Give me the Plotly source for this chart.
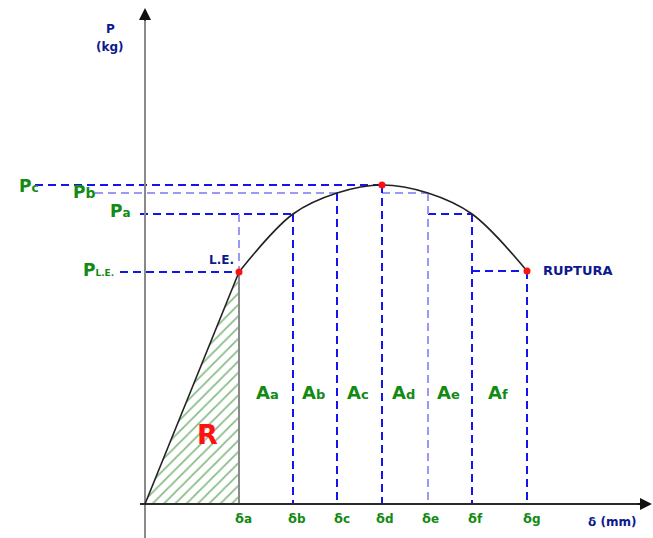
import plotly.graph_objects as go

# Stress-strain style load / elongation diagram
delta_names = ["δa", "δb", "δc", "δd", "δe", "δf", "δg"]
delta_vals = [9.4, 14.8, 19.2, 23.7, 28.3, 32.7, 38.2]      # elongation (mm, scaled)
load_vals = [23.2, 29.0, 31.1, 31.9, 31.1, 29.0, 23.3]      # load P (kg, scaled)
area_names = ["Aa", "Ab", "Ac", "Ad", "Ae", "Af"]
p_LE, p_a, p_b, p_c = 23.2, 29.0, 31.1, 31.9

W, H = 653, 538
X0_PX, Y0_PX, SCALE = 145, 504, 10.0


def dx(px):
    return (px - X0_PX) / SCALE


def dy(py):
    return (Y0_PX - py) / SCALE


DARK = "#1414f0"
LIGHT = "#9a9af5"
GREEN = "#138a13"
NAVY = "#0c1a8c"
DASH = "8px,5px"
FONT = "DejaVu Sans, Verdana, sans-serif"

fig = go.Figure()


def guide(xs, ys, color):
    fig.add_trace(go.Scatter(x=xs, y=ys, mode="lines", hoverinfo="skip",
                             line=dict(color=color, width=2, dash=DASH)))


# hatched elastic region R
fig.add_trace(go.Scatter(
    x=[0, delta_vals[0], delta_vals[0], 0], y=[0, load_vals[0], 0, 0],
    mode="lines", fill="toself", line=dict(width=0), fillcolor="white",
    fillpattern=dict(shape="/", fgcolor="#0e7a0e", bgcolor="white", size=8, solidity=0.22),
    hoverinfo="skip"))
fig.add_trace(go.Scatter(x=[delta_vals[0], delta_vals[0]], y=[0, load_vals[0]], mode="lines",
                         line=dict(color="#8a8a8a", width=2), hoverinfo="skip"))

# horizontal guides
guide([dx(35), delta_vals[3]], [p_c, p_c], DARK)
guide([dx(95), delta_vals[2]], [p_b, p_b], LIGHT)
guide([delta_vals[3], delta_vals[4]], [p_b, p_b], LIGHT)
guide([dx(140), delta_vals[1]], [p_a, p_a], DARK)
guide([delta_vals[4], delta_vals[5]], [p_a, p_a], DARK)
guide([dx(120), delta_vals[0]], [p_LE, p_LE], DARK)
guide([delta_vals[5], delta_vals[6]], [load_vals[6], load_vals[6]], DARK)

# vertical guides
guide([delta_vals[0], delta_vals[0]], [p_a, p_LE], LIGHT)
vcolors = [DARK, DARK, DARK, LIGHT, DARK, DARK]
for xv, yv, c in zip(delta_vals[1:], load_vals[1:], vcolors):
    guide([xv, xv], [yv, 0], c)

# axis lines
fig.add_trace(go.Scatter(x=[0, 0], y=[dy(538), dy(14)], mode="lines",
                         line=dict(color="#8a8a8a", width=2), hoverinfo="skip"))
fig.add_trace(go.Scatter(x=[dx(140), dx(645)], y=[0, 0], mode="lines",
                         line=dict(color="#2a2a2a", width=2), hoverinfo="skip"))

# load curve: elastic line then plastic arc
fig.add_trace(go.Scatter(x=[0, delta_vals[0]], y=[0, load_vals[0]], mode="lines",
                         line=dict(color="#222222", width=1.6), hoverinfo="skip"))
fig.add_trace(go.Scatter(x=delta_vals, y=load_vals, mode="lines",
                         line=dict(color="#222222", width=1.6, shape="spline", smoothing=1.0),
                         hoverinfo="skip"))

# key points
fig.add_trace(go.Scatter(x=[delta_vals[0], delta_vals[3], delta_vals[6]],
                         y=[load_vals[0], load_vals[3], load_vals[6]],
                         mode="markers", marker=dict(color="#ff1010", size=7), hoverinfo="skip"))

ann = []


def text(x, y, t, size, color, bold=True, family=FONT):
    ann.append(dict(x=x, y=y, xref="x", yref="y", text=f"<b>{t}</b>" if bold else t,
                    showarrow=False, font=dict(size=size, color=color, family=family),
                    xanchor="center", yanchor="middle"))


def sub(main, small, s_small):
    return f"{main}<span style='font-size:{s_small}px'>{small}</span>"


# arrowheads at the axis ends
ann.append(dict(x=0, y=dy(8), ax=0, ay=dy(22), xref="x", yref="y", axref="x", ayref="y",
                showarrow=True, arrowhead=2, arrowsize=1.2, arrowwidth=2, arrowcolor="#111111",
                text=""))
ann.append(dict(x=dx(652), y=0, ax=dx(636), ay=0, xref="x", yref="y", axref="x", ayref="y",
                showarrow=True, arrowhead=2, arrowsize=1.2, arrowwidth=2, arrowcolor="#111111",
                text=""))

# axis titles
text(dx(110), dy(29), "P", 12, NAVY)
text(dx(110), dy(47), "(kg)", 12, NAVY)
text(dx(612), dy(522), "δ (mm)", 12, NAVY)

# load level labels
text(dx(29), dy(186), sub("P", "c", 12), 17, GREEN)
text(dx(84), dy(192), sub("P", "b", 14), 17, GREEN)
text(dx(120), dy(211), sub("P", "a", 12), 17, GREEN)
text(dx(98), dy(270), sub("P", "L.E.", 9), 17, GREEN)

text(dx(221), dy(260), "L.E.", 12, NAVY)
text(dx(578), dy(270), "RUPTURA", 13, NAVY)

# elongation tick labels
tick_px = [243, 297, 342, 385, 430, 475, 532]
for name, px in zip(delta_names, tick_px):
    text(dx(px), dy(518), sub("δ", name[1], 12), 13, GREEN)

# work areas between elongations
area_px = [267, 313, 358, 403, 448, 498]
for name, px in zip(area_names, area_px):
    text(dx(px), dy(392), sub(name[0], name[1], 13), 18, GREEN)

text(dx(207), dy(434), "R", 27, "#ff1010")

fig.update_layout(
    width=W, height=H, autosize=False,
    margin=dict(l=0, r=0, t=0, b=0),
    paper_bgcolor="white", plot_bgcolor="white",
    showlegend=False,
    xaxis=dict(range=[dx(0), dx(W)], visible=False, fixedrange=True),
    yaxis=dict(range=[dy(H), dy(0)], visible=False, fixedrange=True),
    annotations=ann,
)

fig.write_html("out.html")
